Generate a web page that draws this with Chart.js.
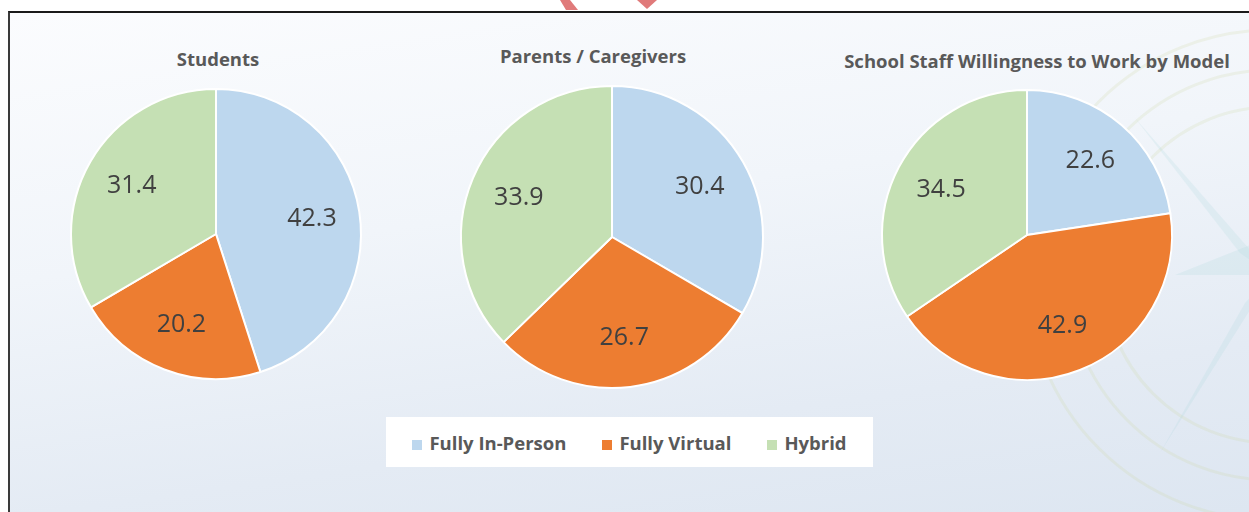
<!DOCTYPE html>
<html lang="en">
<head>
<meta charset="UTF-8">
<title>Learning Model Preferences</title>
<script src="https://cdn.jsdelivr.net/npm/chart.js@4.4.0/dist/chart.umd.min.js"></script>
<style>
  body { margin: 0; width: 1249px; height: 512px; overflow: hidden; background: #fff; position: relative; font-family: 'Open Sans', sans-serif; }
  #frame { position: absolute; left: 8px; top: 11px; right: 0; bottom: 0; border-top: 2px solid #1a1a1a; border-left: 2px solid #3a3a3a;
           background: linear-gradient(172deg, #fbfcfe 0%, #f1f5fa 40%, #e4ebf4 75%, #dde6f1 100%); }
  #marks { position: absolute; left: 0; top: 0; }
  .pie { position: absolute; }
  .title { position: absolute; transform: translate(-50%, -50%); font-weight: bold; font-size: 18.5px; color: #595959; white-space: nowrap; }
  #legend { position: absolute; left: 386px; top: 417px; width: 487px; height: 50px; background: #fff;
            display: flex; justify-content: center; align-items: center; gap: 36px; font-weight: bold; font-size: 18.5px; color: #595959; }
  #legend span.box { display: inline-block; width: 10px; height: 10px; margin-right: 7px; }
</style>
</head>
<body>
<div id="frame">
  <svg width="1241" height="501" style="position:absolute;left:0;top:0">
    <g fill="none" stroke="rgba(205,215,160,0.2)" stroke-width="3">
      <circle cx="1262" cy="262" r="245"/>
      <circle cx="1262" cy="262" r="205"/>
      <circle cx="1262" cy="262" r="168"/>
    </g>
    <g fill="rgba(170,215,220,0.2)">
      <polygon points="1262,262 1125,105 1230,240"/>
      <polygon points="1262,262 1165,262 1240,232 1240,292"/>
      <polygon points="1262,262 1150,440 1235,290"/>
    </g>
  </svg>
</div>
<svg id="marks" width="700" height="12">
  <polygon points="560,0 570,0 578,10 566,10" fill="#e07a7a"/>
  <polygon points="637,0 657,0 647,9" fill="#e07a7a"/>
</svg>

<div class="title" style="left:218px;top:58px">Students</div>
<div class="title" style="left:593px;top:55px">Parents / Caregivers</div>
<div class="title" style="left:1037px;top:60px">School Staff Willingness to Work by Model</div>

<canvas id="students" class="pie" width="320" height="320" style="left:56px;top:74px"></canvas>
<canvas id="parents" class="pie" width="320" height="320" style="left:452px;top:77px"></canvas>
<canvas id="staff" class="pie" width="320" height="320" style="left:867px;top:75px"></canvas>

<div id="legend"></div>

<script>
const categories = ['Fully In-Person', 'Fully Virtual', 'Hybrid'];
const studentValues = [42.3, 20.2, 31.4];
const parentValues = [30.4, 26.7, 33.9];
const staffValues = [22.6, 42.9, 34.5];
const sliceColors = ['#bdd7ee', '#ed7d31', '#c5e0b4'];

// numbers drawn inside each slice
const valueLabels = {
  id: 'valueLabels',
  afterDatasetsDraw(chart) {
    const ctx = chart.ctx;
    const values = chart.data.datasets[0].data;
    ctx.save();
    ctx.font = '25px "Open Sans"';
    ctx.fillStyle = '#404040';
    ctx.textAlign = 'center';
    ctx.textBaseline = 'middle';
    chart.getDatasetMeta(0).data.forEach((arc, i) => {
      const p = arc.getProps(['x', 'y', 'startAngle', 'endAngle', 'outerRadius'], true);
      const mid = (p.startAngle + p.endAngle) / 2;
      const r = p.outerRadius * 0.67;
      ctx.fillText(values[i].toFixed(1), p.x + Math.cos(mid) * r, p.y + Math.sin(mid) * r);
    });
    ctx.restore();
  }
};

function makePie(id, values, radius) {
  return new Chart(document.getElementById(id), {
    type: 'pie',
    data: {
      labels: categories,
      datasets: [{
        data: values,
        backgroundColor: sliceColors,
        borderColor: '#ffffff',
        borderWidth: 2
      }]
    },
    options: {
      responsive: false,
      animation: false,
      radius: radius,
      layout: { padding: 0 },
      plugins: {
        legend: { display: false },
        tooltip: { enabled: false }
      }
    },
    plugins: [valueLabels]
  });
}

makePie('students', studentValues, 145);
makePie('parents', parentValues, 151);
makePie('staff', staffValues, 145);

// legend built from the same categories / colours
const legend = document.getElementById('legend');
categories.forEach((name, i) => {
  const item = document.createElement('div');
  item.innerHTML = '<span class="box" style="background:' + sliceColors[i] + '"></span>' + name;
  legend.appendChild(item);
});
</script>
</body>
</html>
